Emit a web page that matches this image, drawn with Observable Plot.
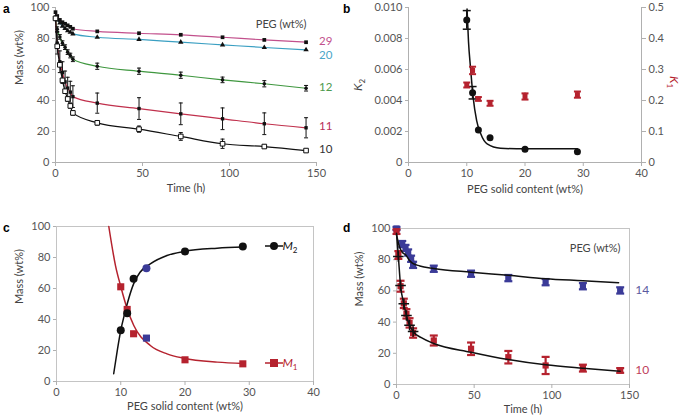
<!DOCTYPE html>
<html><head><meta charset="utf-8">
<script src="https://cdn.jsdelivr.net/npm/d3@7"></script>
<script src="https://cdn.jsdelivr.net/npm/@observablehq/plot@0.6"></script>
<style>
body{margin:0;background:#fff;}
#root{position:relative;width:685px;height:419px;overflow:hidden;font-family:Lato,"Open Sans",sans-serif;}
.panel{position:absolute;}
.letter{position:absolute;font:bold 12px "Liberation Sans",Arial,sans-serif;color:#000;}
</style></head><body><div id="root"></div>
<script>
// ---------- Panel a data ----------
const timeA = [0, 1, 2.5, 4, 5.5, 7, 8.5, 10, 24, 48, 72, 96, 120, 144];
const massA29 = [97, 94.5, 92, 90.5, 89.5, 88.5, 87.5, 86.3, 84.6, 83.4, 82.4, 80.8, 79.1, 77.6];
const massA20 = [94, 92, 90, 88, 86.5, 85, 84, 83, 80.8, 79.4, 77.6, 75.9, 74.2, 72.7];
const massA12 = [93, 86, 81, 77, 74.4, 71.2, 69, 66.6, 62.1, 58.9, 56.3, 53.3, 50.8, 47.9];
const massA11 = [93, 77, 65, 58, 52, 48, 45.4, 42.5, 38.3, 34.8, 31.4, 28.2, 25, 22.4];
const massA10 = [93, 75, 63, 53, 46, 41, 36.5, 32, 25.6, 21.5, 16.8, 12.1, 10.3, 7.7];
const errA12 = [0, 1.5, 1.5, 1.5, 1.5, 1.5, 1.5, 1.5, 2, 2, 2, 1.8, 2, 1.8];
const errA11 = [0, 7, 7, 7, 7, 7, 7, 7, 6.5, 7, 7, 7, 7, 6.5];
const errA10 = [0, 1, 1, 1, 1, 1.5, 1.5, 1.5, 1.5, 2, 2.5, 3, 1, 1];
const labelsA = ["29", "20", "12", "11", "10"];

// ---------- Panel b data ----------
const pegContent = [10, 11, 12, 14, 20, 29];
const k2 = [0.0092, 0.0045, 0.0021, 0.0016, 0.00085, 0.0007];
const k2Err = [0.0006, 0.0004, 0, 0, 0, 0];
const k1 = [0.25, 0.297, 0.205, 0.191, 0.213, 0.219];
const k1Err = [0.008, 0.012, 0.006, 0.008, 0.01, 0.01];
const k2FitX = [10.05, 10.3, 10.65, 11.1, 11.7, 12.4, 13.5, 15.8, 20, 29];
const k2FitY = [0.0099, 0.0078, 0.0061, 0.0042, 0.0027, 0.00185, 0.0012, 0.00092, 0.00088, 0.00088];
const k2Ticks = [0, 0.002, 0.004, 0.006, 0.008, 0.010];

// ---------- Panel c data ----------
const m2 = [33, 44, 66.3, 73.1, 83.9, 87.1];
const m1 = [61.1, 46.5, 30.8, 28, 14, 11.4];
const highlightPeg = 14;
const m2FitX = [8.9, 9.5, 10, 10.5, 11, 12, 13, 14.6, 17.2, 19.8, 25, 29.1];
const m2FitY = [5, 21, 33, 42, 50, 63, 70.5, 75.9, 81.3, 83.9, 86, 86.7];
const m1FitX = [8.14, 9.18, 9.96, 11, 12.03, 14.6, 17.2, 19.8, 25, 29.1];
const m1FitY = [100, 74.8, 61.9, 46.9, 36.1, 23.2, 17.8, 15, 12.5, 11.6];

// ---------- Panel d data ----------
const timeD14 = [0, 3.7, 5.8, 7.5, 9.4, 10.7, 24, 48, 72, 96, 120, 144];
const massD14 = [100, 90, 87.5, 84.6, 80.6, 76.7, 74.2, 71, 68.2, 65.6, 63, 60.3];
const errD14 = [1, 2, 2, 2, 2, 2, 2, 2, 2, 2, 2, 2];
const timeD10 = [0, 1.2, 2.6, 4.7, 6.4, 8.4, 10.7, 24, 48, 72, 96, 120, 144];
const massD10 = [98, 83, 63, 52, 45.3, 39.5, 33, 28.2, 22.9, 17.5, 12.2, 10.5, 9];
const errD10 = [1.5, 2.5, 3.5, 3, 3, 3, 3, 3.2, 4, 4, 5.5, 2.2, 1.5];
const fit14X = [0, 2, 4, 6, 8, 10, 15, 24, 48, 72, 96, 120, 143];
const fit14Y = [96, 88, 84.5, 83, 80, 78, 76, 74.4, 72, 70, 67.8, 66.5, 65.2];
const fit10X = [0, 1.2, 2.6, 4.7, 6.4, 8.4, 10.7, 16, 24, 48, 72, 96, 120, 144];
const fit10Y = [97, 82, 63.5, 51.7, 44.2, 38, 34, 30, 26.3, 20.7, 16, 12.6, 10.4, 8.5];
const labelsD = ["14", "10"];

// ---------- helpers ----------
const GRID = "#b0b0b0", TXT = "#555";
const FONT = {fontFamily: "Lato, 'Open Sans', sans-serif", fontSize: "11px", background: "transparent", overflow: "visible"};
const cap = {draw(ctx, size) { const r = Math.sqrt(size / Math.PI); ctx.moveTo(-r, 0); ctx.lineTo(r, 0); }};
function errBars(data, {x, y, e, stroke, r = 2.5, strokeWidth = 1}) {
  const filter = d => d[e] > 0;
  return [
    Plot.ruleX(data, {x, y1: d => d[y] - d[e], y2: d => d[y] + d[e], stroke, strokeWidth, filter}),
    Plot.dot(data, {x, y: d => d[y] - d[e], symbol: cap, r, stroke, strokeWidth, fill: "none", filter}),
    Plot.dot(data, {x, y: d => d[y] + d[e], symbol: cap, r, stroke, strokeWidth, fill: "none", filter})
  ];
}
const rows = (xs, ys, es) => xs.map((x, i) => ({x, y: ys[i], e: es ? es[i] : 0}));
function axes(xTicks, yTicks, opts = {}) {
  return [
    Plot.axisX({ticks: xTicks, tickSize: 4, tickPadding: 3, stroke: GRID, fill: TXT, label: null, fontSize: 11, tickFormat: opts.xFmt}),
    Plot.axisY({ticks: yTicks, tickSize: 3, tickPadding: 3, stroke: GRID, fill: TXT, label: null, fontSize: 11, tickFormat: opts.yFmt})
  ];
}
const root = document.getElementById("root");
function place(svg, left, top) {
  const d = document.createElement("div");
  d.className = "panel"; d.style.left = left + "px"; d.style.top = top + "px";
  d.appendChild(svg); root.appendChild(d);
}
function letter(t, left, top) {
  const d = document.createElement("div"); d.className = "letter";
  d.style.left = left + "px"; d.style.top = top + "px"; d.textContent = t; root.appendChild(d);
}

// ---------- Panel a ----------
const colorsA = ["#c2508c", "#3a9fc2", "#3f973f", "#c0304c", "#111111"];
const labelColorsA = ["#c2508c", "#4aa6c8", "#4e9a4e", "#b8305a", "#333333"];
const seriesA = [massA29, massA20, massA12, massA11, massA10];
const dataA = seriesA.map(s => rows(timeA, s));
const dA12 = rows(timeA, massA12, errA12), dA11 = rows(timeA, massA11, errA11), dA10 = rows(timeA, massA10, errA10);
const endA = seriesA.map((s, i) => ({x: timeA[timeA.length - 1], y: s[s.length - 1], label: labelsA[i], c: labelColorsA[i]}));
const plotA = Plot.plot({
  width: 340, height: 200, marginLeft: 55, marginRight: 24, marginTop: 7, marginBottom: 38,
  style: FONT,
  x: {domain: [0, 150]}, y: {domain: [0, 100]},
  marks: [
    ...axes([0, 50, 100, 150], [0, 20, 40, 60, 80, 100]),
    Plot.ruleX([0], {stroke: GRID}), Plot.ruleY([0], {stroke: GRID}),
    ...dataA.map((d, i) => Plot.line(d, {x: "x", y: "y", stroke: colorsA[i], strokeWidth: 1.2, curve: "monotone-x"})),
    ...errBars(dA12, {x: "x", y: "y", e: "e", stroke: "#111", r: 2}),
    ...errBars(dA11, {x: "x", y: "y", e: "e", stroke: "#111", r: 2}),
    ...errBars(dA10, {x: "x", y: "y", e: "e", stroke: "#111", r: 2}),
    Plot.dot(dataA[0], {x: "x", y: "y", symbol: "square", r: 2.1, fill: "#111"}),
    Plot.dot(dataA[1], {x: "x", y: "y", symbol: "triangle", r: 2, fill: "#111"}),
    Plot.dot(dataA[2], {x: "x", y: "y", r: 1.8, fill: "#111"}),
    Plot.dot(dataA[3], {x: "x", y: "y", symbol: "square", r: 1.9, fill: "#111"}),
    Plot.dot(dataA[4], {x: "x", y: "y", symbol: "square", r: 2.6, fill: "#fff", stroke: "#111", strokeWidth: 1}),
    Plot.text(endA.filter(d => d.label !== "20"), {x: "x", y: "y", text: "label", fill: "c", dx: 13, dy: -1, textAnchor: "start", fontSize: 11.5}),
    Plot.text(endA.filter(d => d.label === "20"), {x: "x", y: "y", text: "label", fill: "c", dx: 13, dy: 5, textAnchor: "start", fontSize: 11.5}),
    Plot.text(["PEG (wt%)"], {frameAnchor: "top-right", dx: -10, dy: 13, textAnchor: "end", fill: "#444"}),
    Plot.text(["Time (h)"], {frameAnchor: "bottom", dy: 29, fill: "#444"}),
    Plot.text(["Mass (wt%)"], {frameAnchor: "left", dx: -36, rotate: -90, fill: "#444"})
  ]
});
place(plotA, 0, 0);

// ---------- Panel b ----------
const k1Factor = k2Ticks[k2Ticks.length - 1] / 0.5;
const dK2 = rows(pegContent, k2, k2Err);
const dK1 = pegContent.map((x, i) => ({x, y: k1[i] * k1Factor, e: k1Err[i] * k1Factor}));
const dK2Fit = rows(k2FitX, k2FitY);
const RED = "#b5222e";
const plotB = Plot.plot({
  width: 345, height: 200, marginLeft: 68, marginRight: 44, marginTop: 7, marginBottom: 38,
  style: FONT,
  x: {domain: [0, 40]}, y: {domain: [0, 0.010]},
  marks: [
    ...axes([0, 10, 20, 30, 40], k2Ticks, {yFmt: d => d === 0 ? "0" : d.toFixed(3)}),
    Plot.axisY({anchor: "right", ticks: k2Ticks, tickSize: 4, tickPadding: 3, stroke: GRID, fill: TXT, label: null, fontSize: 11,
      tickFormat: d => { const v = d / k1Factor; return v === 0 ? "0" : v.toFixed(1); }}),
    Plot.ruleX([0, 40], {stroke: GRID}), Plot.ruleY([0], {stroke: GRID}),
    Plot.line(dK2Fit, {x: "x", y: "y", stroke: "#111", strokeWidth: 1.5, curve: "monotone-x"}),
    ...errBars(dK2, {x: "x", y: "y", e: "e", stroke: "#111", r: 4, strokeWidth: 1.5}),
    Plot.dot(dK2, {x: "x", y: "y", r: 3.5, fill: "#111"}),
    ...errBars(dK1, {x: "x", y: "y", e: "e", stroke: RED, r: 3.5, strokeWidth: 2}),
    Plot.dot(dK1, {x: "x", y: "y", symbol: "square", r: 2.8, fill: RED}),
    Plot.text(["PEG solid content (wt%)"], {frameAnchor: "bottom", dy: 30, fill: "#444"})
  ]
});
{
  const g = d3.select(plotB).append("g").attr("font-family", "Lato, sans-serif").attr("font-size", 12);
  const t2 = g.append("text").attr("transform", "translate(22,85) rotate(-90)").attr("text-anchor", "middle").attr("fill", "#444");
  t2.append("tspan").attr("font-style", "italic").text("K");
  t2.append("tspan").attr("font-size", 8).attr("dy", 3).text("2");
  const t1 = g.append("text").attr("transform", "translate(330,82) rotate(90)").attr("text-anchor", "middle").attr("fill", RED);
  t1.append("tspan").attr("font-style", "italic").text("K");
  t1.append("tspan").attr("font-size", 8).attr("dy", 3).text("1");
}
place(plotB, 340, 0);

// ---------- Panel c ----------
const BLUE = "#3b3b98";
const dM2 = rows(pegContent, m2), dM1 = rows(pegContent, m1);
const plotC = Plot.plot({
  width: 340, height: 219, marginLeft: 56, marginRight: 27, marginTop: 26, marginBottom: 38,
  style: FONT,
  x: {domain: [0, 40]}, y: {domain: [0, 100]},
  marks: [
    Plot.frame({stroke: "#c4c4c4"}),
    ...axes([0, 10, 20, 30, 40], [0, 20, 40, 60, 80, 100]),
    Plot.line(rows(m1FitX, m1FitY), {x: "x", y: "y", stroke: RED, strokeWidth: 1.5, curve: "monotone-x"}),
    Plot.line(rows(m2FitX, m2FitY), {x: "x", y: "y", stroke: "#111", strokeWidth: 1.5, curve: "monotone-x"}),
    Plot.dot(dM1, {x: "x", y: "y", symbol: "square", r: 4, fill: d => d.x === highlightPeg ? BLUE : RED}),
    Plot.dot(dM2, {x: "x", y: "y", r: 4, fill: d => d.x === highlightPeg ? BLUE : "#111"}),
    Plot.text(["PEG solid content (wt%)"], {frameAnchor: "bottom", dy: 28, fill: "#444"}),
    Plot.text(["Mass (wt%)"], {frameAnchor: "left", dx: -37, rotate: -90, fill: "#444"})
  ]
});
{
  const g = d3.select(plotC).append("g").attr("font-family", "Lato, sans-serif").attr("font-size", 12);
  const items = [{y: 46, c: "#111", sym: "circle", sub: "2"}, {y: 163, c: RED, sym: "square", sub: "1"}];
  for (const it of items) {
    g.append("line").attr("x1", 265).attr("x2", 283).attr("y1", it.y).attr("y2", it.y).attr("stroke", it.c).attr("stroke-width", 1.5);
    if (it.sym === "circle") g.append("circle").attr("cx", 274).attr("cy", it.y).attr("r", 4).attr("fill", it.c);
    else g.append("rect").attr("x", 270).attr("y", it.y - 4).attr("width", 8).attr("height", 8).attr("fill", it.c);
    const t = g.append("text").attr("x", 290).attr("y", it.y + 4).attr("fill", it.c);
    t.append("tspan").attr("font-style", "italic").text("M");
    t.append("tspan").attr("font-size", 8).attr("dy", 3).text(it.sub);
  }
}
place(plotC, 0, 200);

// ---------- Panel d ----------
const dD14 = rows(timeD14, massD14, errD14), dD10 = rows(timeD10, massD10, errD10);
const dFit10 = rows(fit10X, fit10Y);
const endD = [{x: timeD14[timeD14.length - 1], y: massD14[massD14.length - 1], label: labelsD[0], c: "#5b5aa0"},
              {x: timeD10[timeD10.length - 1], y: massD10[massD10.length - 1], label: labelsD[1], c: "#c0405a"}];
const plotD = Plot.plot({
  width: 345, height: 219, marginLeft: 56, marginRight: 56, marginTop: 28, marginBottom: 35,
  style: FONT,
  x: {domain: [0, 150]}, y: {domain: [0, 100]},
  marks: [
    Plot.frame({stroke: "#c4c4c4"}),
    ...axes([0, 50, 100, 150], [0, 20, 40, 60, 80, 100]),
    ...errBars(dD14, {x: "x", y: "y", e: "e", stroke: BLUE, r: 4, strokeWidth: 2.2}),
    Plot.dot(dD14, {x: "x", y: "y", symbol: "square", r: 3.5, fill: BLUE}),
    ...errBars(dD10, {x: "x", y: "y", e: "e", stroke: RED, r: 4, strokeWidth: 2.2}),
    Plot.dot(dD10, {x: "x", y: "y", symbol: "square", r: 3.5, fill: RED}),
    Plot.line(rows(fit14X, fit14Y), {x: "x", y: "y", stroke: "#111", strokeWidth: 1.5, curve: "monotone-x"}),
    Plot.line(dFit10, {x: "x", y: "y", stroke: "#111", strokeWidth: 1.5, curve: "monotone-x"}),
    Plot.dot(dFit10.filter(d => d.x > 0 && d.x < 12), {x: "x", y: "y", symbol: "plus", r: 3.5, stroke: "#111", strokeWidth: 1.5}),
    Plot.text(endD, {x: "x", y: "y", text: "label", fill: "c", dx: 15, textAnchor: "start", fontSize: 12}),
    Plot.text(["PEG (wt%)"], {frameAnchor: "top-right", dx: -9, dy: 16, textAnchor: "end", fill: "#444"}),
    Plot.text(["Time (h)"], {frameAnchor: "bottom", dx: 10, dy: 28, fill: "#444"}),
    Plot.text(["Mass (wt%)"], {frameAnchor: "left", dx: -37, rotate: -90, fill: "#444"})
  ]
});
place(plotD, 340, 200);

letter("a", 3, 2); letter("b", 343, 2); letter("c", 3, 221); letter("d", 343, 221);
</script></body></html>
